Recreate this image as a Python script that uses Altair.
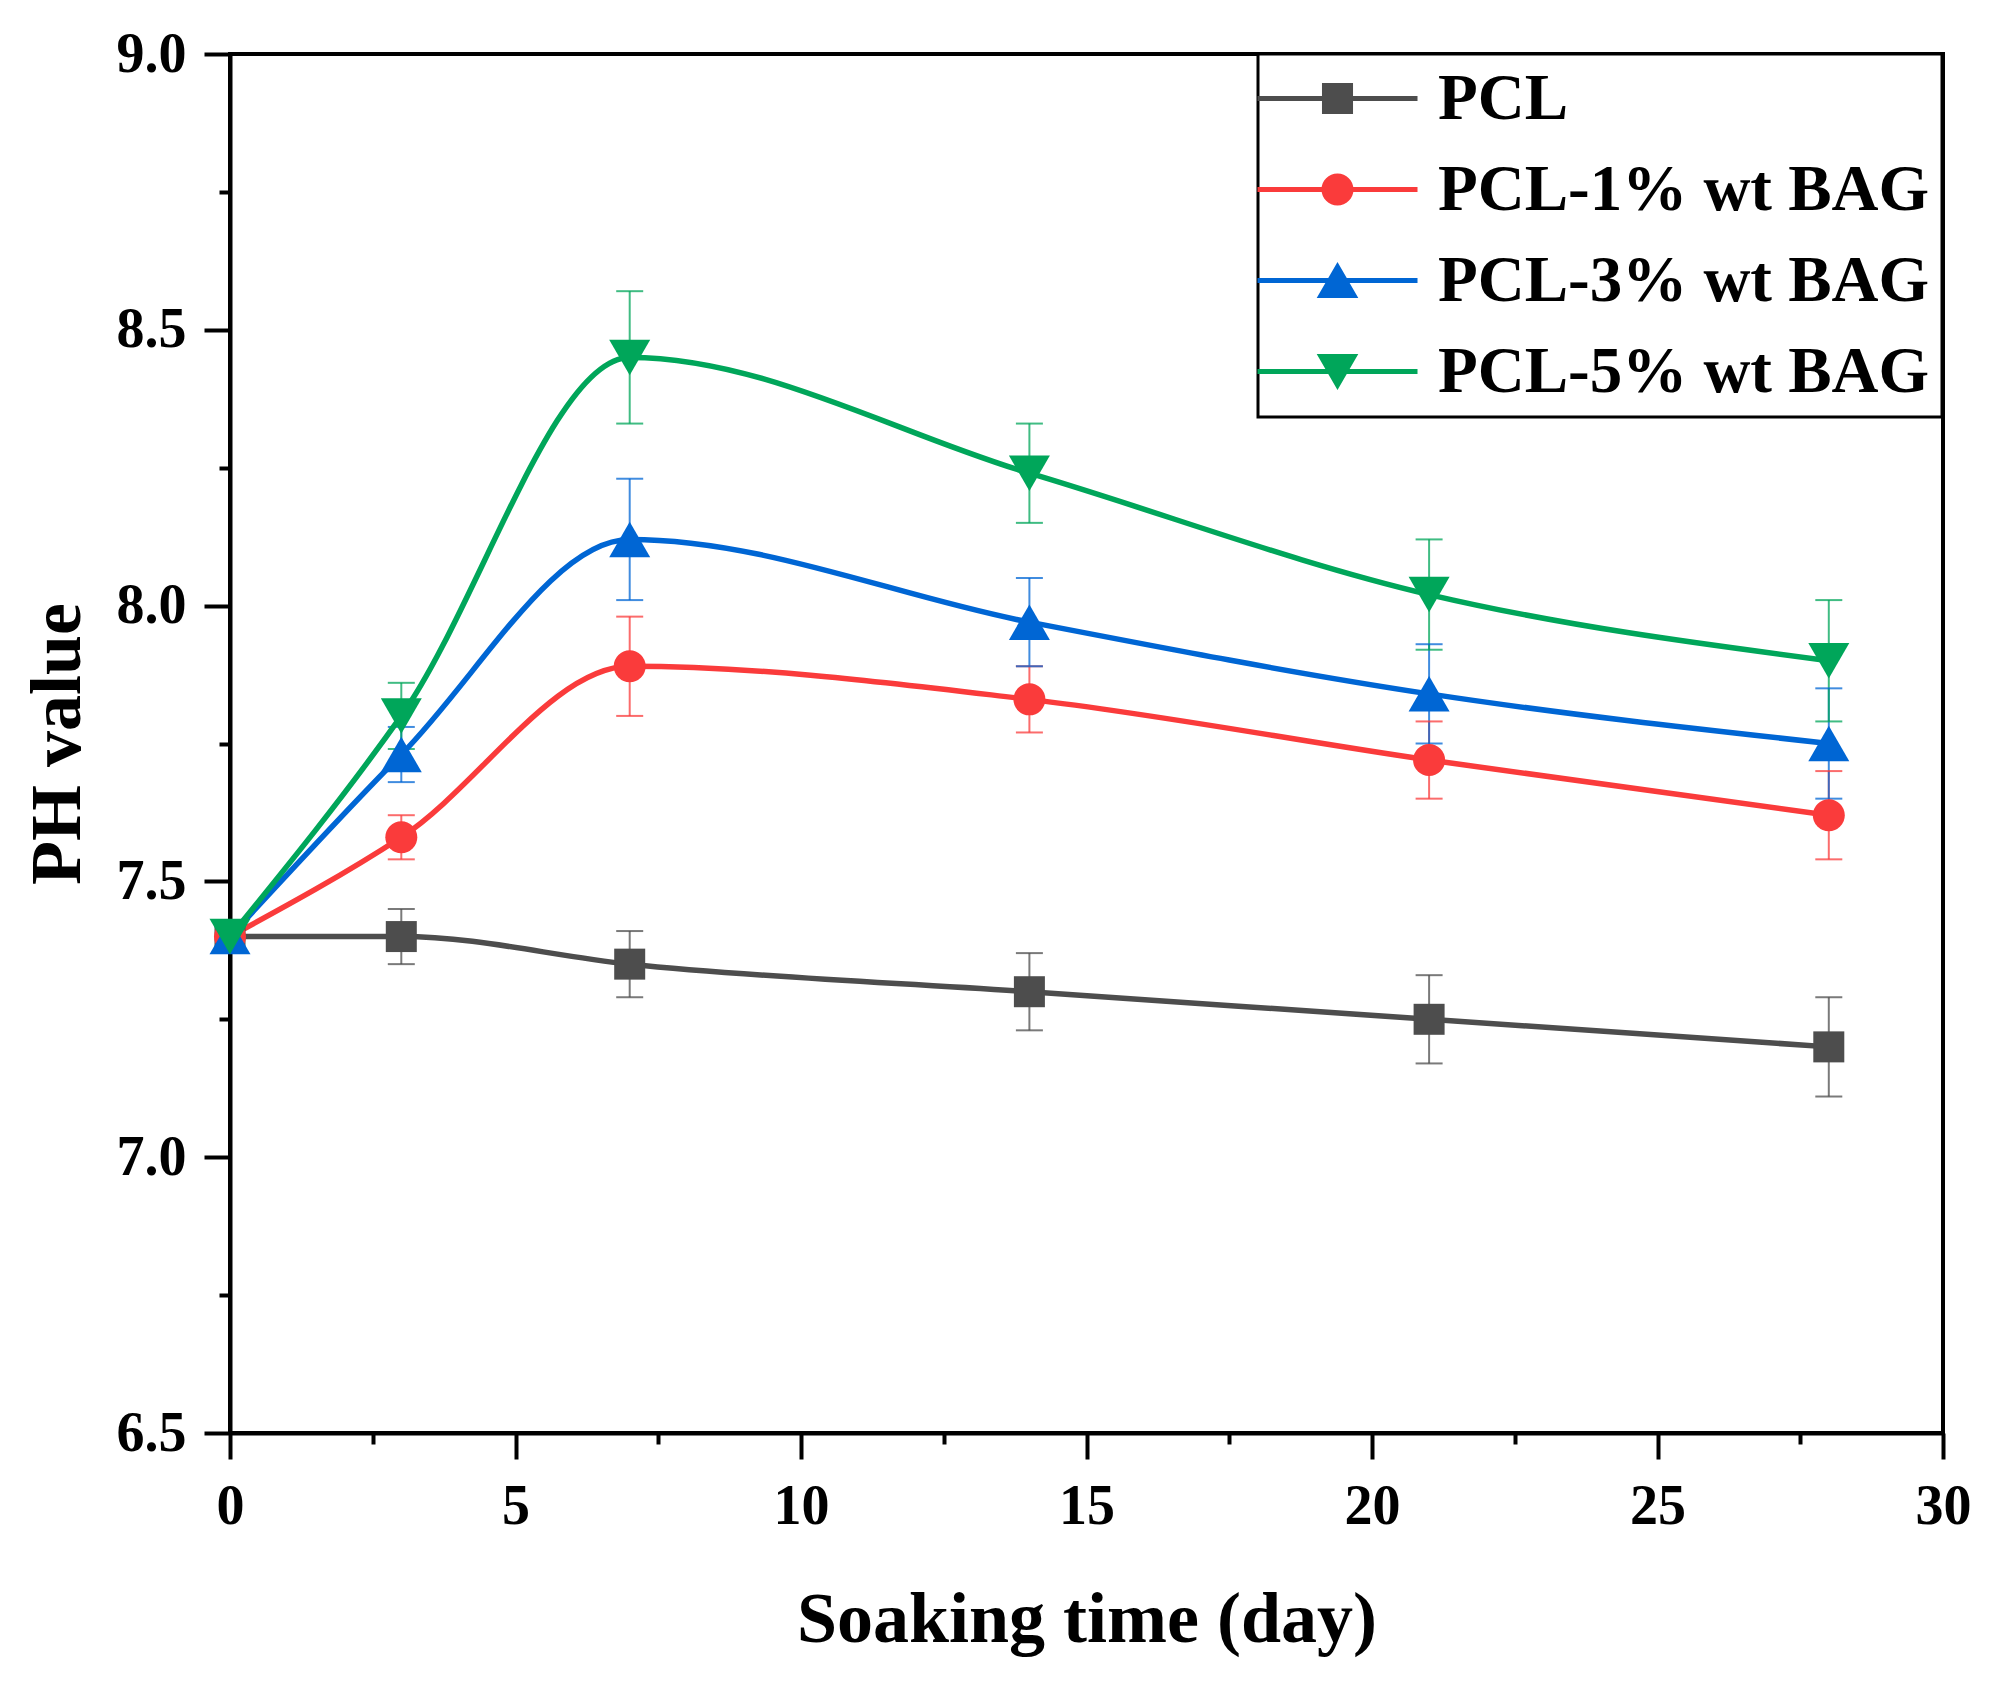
import altair as alt
import pandas as pd

days = [0, 3, 7, 14, 21, 28]
series = ["PCL", "PCL-1% wt BAG", "PCL-3% wt BAG", "PCL-5% wt BAG"]
ph_pcl = [7.40, 7.40, 7.35, 7.30, 7.25, 7.20]
err_pcl = [0.0, 0.05, 0.06, 0.07, 0.08, 0.09]
ph_1 = [7.40, 7.58, 7.89, 7.83, 7.72, 7.62]
err_1 = [0.0, 0.04, 0.09, 0.06, 0.07, 0.08]
ph_3 = [7.40, 7.73, 8.12, 7.97, 7.84, 7.75]
err_3 = [0.0, 0.05, 0.11, 0.08, 0.09, 0.10]
ph_5 = [7.40, 7.80, 8.45, 8.24, 8.02, 7.90]
err_5 = [0.0, 0.06, 0.12, 0.09, 0.10, 0.11]
colors = ["#4d4d4d", "#fa3b3b", "#0066d4", "#00a65a"]
markers = ["square", "circle", "triangle-up", "triangle-down"]

x_ticks = [0, 5, 10, 15, 20, 25, 30]
x_minor = [2.5, 7.5, 12.5, 17.5, 22.5, 27.5]
y_ticks = [6.5, 7.0, 7.5, 8.0, 8.5, 9.0]
y_minor = [6.75, 7.25, 7.75, 8.25, 8.75]

# legend symbols: line segment + marker as custom paths
LINE = "M-5,-0.16 L5,-0.16 L5,0.16 L-5,0.16 Z "
legend_paths = [
    LINE + "M-0.97,-0.97 L0.97,-0.97 L0.97,0.97 L-0.97,0.97 Z",
    LINE + "M-1,0 A1,1 0 1,1 1,0 A1,1 0 1,1 -1,0 Z",
    LINE + "M0,-1.15 L1.3,1.1 L-1.3,1.1 Z",
    LINE + "M0,1.15 L-1.3,-1.1 L1.3,-1.1 Z",
]

rows = []
for s, vals, errs, col, mk in zip(series, [ph_pcl, ph_1, ph_3, ph_5],
                                  [err_pcl, err_1, err_3, err_5], colors, markers):
    for d, v, e in zip(days, vals, errs):
        rows.append(dict(series=s, day=d, ph=v, lo=v - e, hi=v + e, col=col, mk=mk))
df = pd.DataFrame(rows)

FONT = "Liberation Serif"
xs = alt.Scale(domain=[0, 30], nice=False, zero=False)
ys = alt.Scale(domain=[6.5, 9.0], nice=False, zero=False)

x_major = alt.Axis(values=x_ticks, format="d", title="Soaking time (day)", orient="bottom",
                   tickSize=26, labelPadding=20, titlePadding=50, labelFlush=False)
y_major = alt.Axis(values=y_ticks, format=".1f", title="PH value", orient="left",
                   tickSize=26, labelPadding=18, titlePadding=22, labelFlush=False)
x_min_ax = alt.Axis(values=x_minor, labels=False, domain=False, title=None, orient="bottom",
                    tickSize=11)
y_min_ax = alt.Axis(values=y_minor, labels=False, domain=False, title=None, orient="left",
                    tickSize=11)

base = alt.Chart(df)
colr = alt.Color("col:N", scale=None)

err_rule = base.mark_rule(strokeWidth=2, opacity=0.75).encode(
    x=alt.X("day:Q", scale=xs, axis=x_major),
    y=alt.Y("lo:Q", scale=ys, axis=y_major),
    y2="hi:Q",
    color=colr,
)
cap_hi = base.mark_tick(orient="horizontal", size=27, thickness=2, opacity=0.75).encode(
    x=alt.X("day:Q", scale=xs, axis=x_min_ax),
    y=alt.Y("hi:Q", scale=ys, axis=y_min_ax),
    color=colr,
)
cap_lo = base.mark_tick(orient="horizontal", size=27, thickness=2, opacity=0.75).encode(
    x=alt.X("day:Q", scale=xs, axis=None),
    y=alt.Y("lo:Q", scale=ys, axis=None),
    color=colr,
)
lines = base.mark_line(interpolate="monotone", strokeWidth=5.5).encode(
    x=alt.X("day:Q", scale=xs, axis=None),
    y=alt.Y("ph:Q", scale=ys, axis=None),
    color=colr,
    detail="series:N",
)
sizes = {"square": 961, "circle": 1024, "triangle-up": 1681, "triangle-down": 1681}
pts = []
for mk in markers:
    pts.append(
        base.transform_filter(alt.datum.mk == mk).mark_point(
            filled=True, opacity=1, strokeWidth=0, size=sizes[mk], shape=mk
        ).encode(
            x=alt.X("day:Q", scale=xs, axis=None),
            y=alt.Y("ph:Q", scale=ys, axis=None),
            color=colr,
        )
    )

leg = alt.Legend(
    title=None, orient="none", legendX=1028, legendY=0, padding=12,
    strokeColor="black", fillColor="white",
    labelFont=FONT, labelFontWeight="bold", labelFontSize=65, labelColor="black",
    labelLimit=0, labelOffset=68, symbolOffset=35, rowPadding=25,
    symbolSize=1024, symbolStrokeWidth=0, symbolOpacity=1,
)
# legend-only layer: placed outside the x domain and clipped away
legend_layer = base.transform_filter(alt.datum.day == 0).transform_calculate(
    hidden_x="datum.day - 100"
).mark_point(filled=True, opacity=1, fillOpacity=1, strokeOpacity=1, clip=True).encode(
    x=alt.X("hidden_x:Q", scale=xs, axis=None),
    y=alt.Y("ph:Q", scale=ys, axis=None),
    color=alt.Color("series:N", scale=alt.Scale(domain=series, range=colors), legend=leg),
    shape=alt.Shape("series:N", scale=alt.Scale(domain=series, range=legend_paths), legend=leg),
    opacity=alt.value(1),
)

chart = alt.layer(err_rule, cap_hi, cap_lo, lines, *pts, legend_layer).resolve_axis(
    x="independent", y="independent"
).properties(
    width=1713, height=1379,
    autosize=alt.AutoSizeParams(type="none"),
    padding={"left": 222, "top": 46, "right": 47, "bottom": 241},
    background="white",
).configure_view(
    stroke="black", strokeWidth=4
).configure_axis(
    grid=False,
    domainColor="black", domainWidth=4,
    tickColor="black", tickWidth=4,
    labelFont=FONT, labelFontWeight="bold", labelFontSize=56, labelColor="black",
    titleFont=FONT, titleFontWeight="bold", titleFontSize=72, titleColor="black",
    labelOverlap=False,
).configure_legend(
    strokeWidth=3, symbolOpacity=1
)

chart.save("out.html", embed_options={"renderer": "svg", "actions": False})
